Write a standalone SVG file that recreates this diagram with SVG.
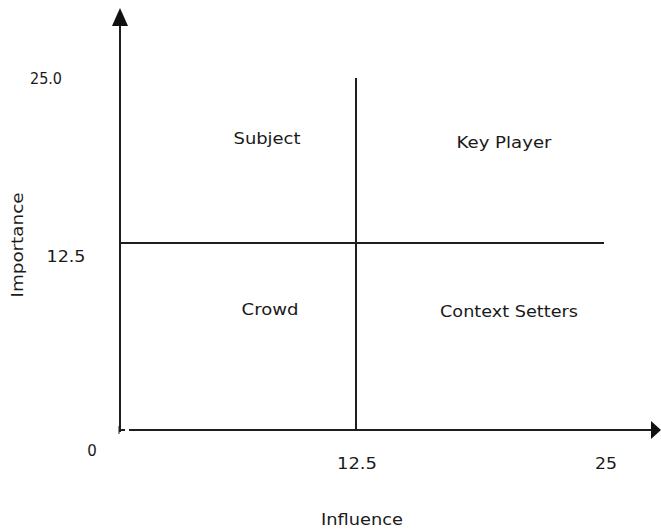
<svg xmlns="http://www.w3.org/2000/svg" width="661" height="529" viewBox="0 0 661 529">
<defs>
<style>
.ax{stroke:#1e1e1e;stroke-width:2;fill:none}
.t{font-family:"DejaVu Sans","Liberation Sans",sans-serif;font-size:15px;fill:#1a1a1a;text-anchor:middle}
</style>
</defs>
<rect width="661" height="529" fill="#fff"/>
<g id="connectors">
<line class="ax" x1="120" y1="432" x2="120" y2="12"/>
<path d="M120,8 L112,26 L128,26 Z" fill="#111"/>
<line class="ax" x1="119" y1="430" x2="125" y2="430"/>
<line class="ax" x1="129" y1="430" x2="652" y2="430"/>
<path d="M661,430 L651,421 L651,439 Z" fill="#111"/>
<line class="ax" x1="119" y1="426" x2="119" y2="434" style="stroke-width:1"/>
<line class="ax" x1="356" y1="78" x2="356" y2="430"/>
<line class="ax" x1="120" y1="243" x2="604" y2="243"/>
</g>
<g id="quadrant-subject"><text class="t" x="267" y="144" textLength="67" lengthAdjust="spacingAndGlyphs">Subject</text></g>
<g id="quadrant-keyplayer"><text class="t" x="504" y="148" textLength="95" lengthAdjust="spacingAndGlyphs">Key Player</text></g>
<g id="quadrant-crowd"><text class="t" x="270" y="315" textLength="57" lengthAdjust="spacingAndGlyphs">Crowd</text></g>
<g id="quadrant-context"><text class="t" x="509" y="317" textLength="138" lengthAdjust="spacingAndGlyphs">Context Setters</text></g>
<g id="labels">
<text class="t" x="46" y="84" textLength="32" lengthAdjust="spacingAndGlyphs">25.0</text>
<text class="t" x="66" y="262" textLength="39" lengthAdjust="spacingAndGlyphs">12.5</text>
<text class="t" x="92" y="456">0</text>
<text class="t" x="357" y="469" textLength="40" lengthAdjust="spacingAndGlyphs">12.5</text>
<text class="t" x="606" y="469" textLength="22" lengthAdjust="spacingAndGlyphs">25</text>
<text class="t" x="362" y="525" textLength="82" lengthAdjust="spacingAndGlyphs">Influence</text>
<text class="t" transform="translate(23,245) rotate(-90)" x="0" y="0" textLength="105" lengthAdjust="spacingAndGlyphs">Importance</text>
</g>
</svg>
